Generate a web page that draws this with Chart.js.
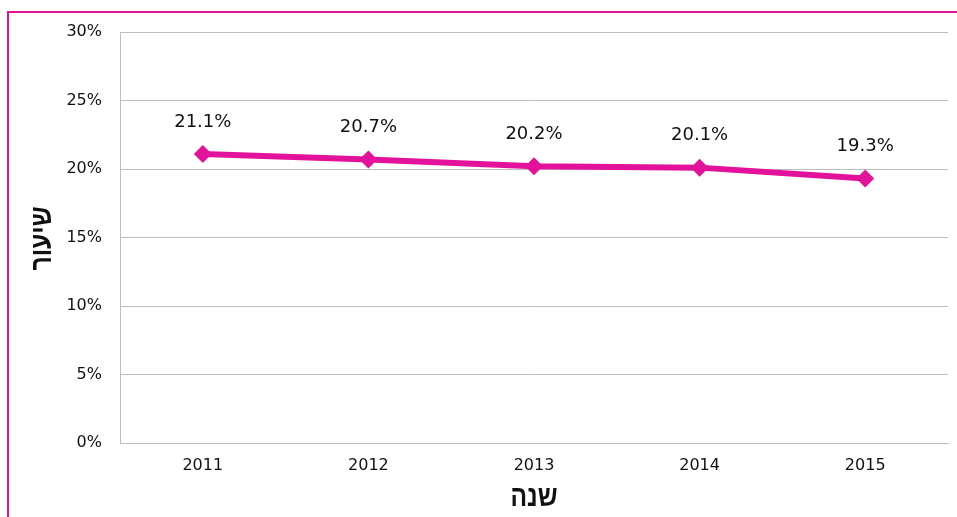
<!DOCTYPE html>
<html>
<head>
<meta charset="utf-8">
<script src="https://cdn.jsdelivr.net/npm/chart.js@4/dist/chart.umd.min.js"></script>
<style>
  html, body { margin: 0; padding: 0; background: #fff; overflow: hidden; }
  #wrap { position: relative; width: 957px; height: 517px; }
  #frame { position: absolute; left: 7px; top: 11px; width: 1000px; height: 1000px;
           border: 2px solid #E2129A; box-sizing: border-box; pointer-events: none; }
  canvas { position: absolute; left: 0; top: 0; }
</style>
</head>
<body>
<div id="wrap">
  <canvas id="c" width="957" height="517"></canvas>
  <div id="frame"></div>
</div>
<script>
const years = ['2011', '2012', '2013', '2014', '2015'];
const rates = [21.1, 20.7, 20.2, 20.1, 19.3];
const yTitle = 'שיעור';
const xTitle = 'שנה';

const MAGENTA = '#E2129A';
const NUM_FONT = "'DejaVu Sans', sans-serif";
const HEB_FONT = "'Liberation Sans', 'DejaVu Sans', sans-serif";

// value labels above each point
const valueLabels = {
  id: 'valueLabels',
  afterDatasetsDraw(chart) {
    const ctx = chart.ctx;
    const meta = chart.getDatasetMeta(0);
    ctx.save();
    ctx.font = '18px ' + NUM_FONT;
    ctx.fillStyle = '#111';
    ctx.textAlign = 'center';
    ctx.textBaseline = 'middle';
    meta.data.forEach((pt, i) => {
      ctx.fillText(rates[i].toFixed(1) + '%', pt.x, pt.y - 32);
    });
    ctx.restore();
  }
};

// condensed bold axis titles
const axisTitles = {
  id: 'axisTitles',
  afterDraw(chart) {
    const ctx = chart.ctx;
    const a = chart.chartArea;
    const sx = 0.82;
    ctx.save();
    ctx.font = 'bold 30px ' + HEB_FONT;
    ctx.fillStyle = '#111';
    ctx.textAlign = 'center';
    ctx.textBaseline = 'middle';
    // horizontal title
    ctx.save();
    ctx.translate((a.left + a.right) / 2, 498);
    ctx.scale(sx, 1);
    ctx.fillText(xTitle, 0, 0);
    ctx.restore();
    // vertical title
    ctx.save();
    ctx.translate(43, (a.top + a.bottom) / 2 + 1);
    ctx.rotate(-Math.PI / 2);
    ctx.scale(sx, 1);
    ctx.fillText(yTitle, 0, 0);
    ctx.restore();
    ctx.restore();
  }
};

new Chart(document.getElementById('c'), {
  type: 'line',
  data: {
    labels: years,
    datasets: [{
      data: rates,
      borderColor: MAGENTA,
      backgroundColor: MAGENTA,
      borderWidth: 6,
      pointStyle: 'rectRot',
      pointRadius: 9,
      pointBorderWidth: 0,
      pointBackgroundColor: MAGENTA,
      tension: 0
    }]
  },
  options: {
    responsive: false,
    animation: false,
    devicePixelRatio: 1,
    layout: { padding: { top: 32, right: 8, left: 0, bottom: 0 } },
    plugins: { legend: { display: false }, tooltip: { enabled: false } },
    scales: {
      x: {
        offset: true,
        grid: { display: false, drawTicks: false },
        border: { display: true, color: '#BDBDBD', width: 1 },
        ticks: { color: '#111', font: { family: NUM_FONT, size: 16 }, padding: 13 },
        afterFit(scale) { scale.height = 74; }
      },
      y: {
        min: 0, max: 30,
        ticks: { stepSize: 5, color: '#111', font: { family: NUM_FONT, size: 16 }, padding: 18,
                 callback: v => v + '%' },
        grid: { color: '#BDBDBD', lineWidth: 1, drawTicks: false },
        border: { display: true, color: '#BDBDBD', width: 1 },
        afterFit(scale) { scale.width = 120; }
      }
    }
  },
  plugins: [valueLabels, axisTitles]
});
</script>
</body>
</html>
